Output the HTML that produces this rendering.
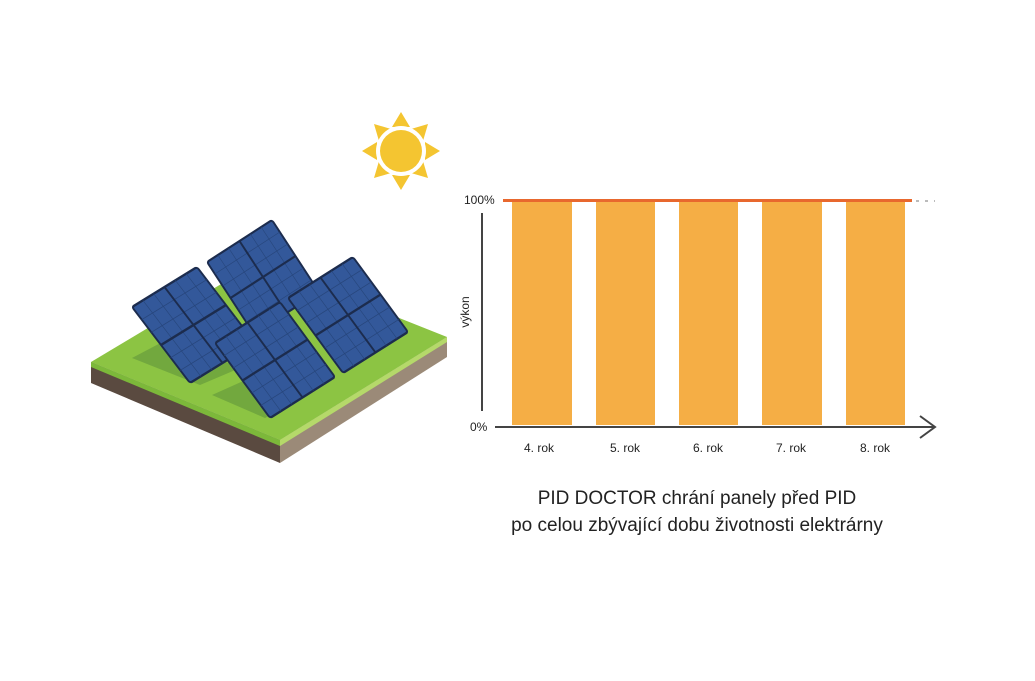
<!DOCTYPE html>
<html><head><meta charset="utf-8"><style>
html,body{margin:0;padding:0;background:#fff;width:1035px;height:681px;overflow:hidden}
svg{display:block}
text{font-family:"Liberation Sans",sans-serif;fill:#222}
</style></head><body>
<svg width="1035" height="681" viewBox="0 0 1035 681" xmlns="http://www.w3.org/2000/svg">
<defs>
<g id="panel">
  <rect x="0" y="0" width="1" height="1" rx="0.03" fill="#33589a" stroke="#1c2c4e" stroke-width="0.025"/>
  <g stroke="#27467c" stroke-width="0.008">
    <line x1="0.167" y1="0" x2="0.167" y2="1"/><line x1="0.333" y1="0" x2="0.333" y2="1"/>
    <line x1="0.667" y1="0" x2="0.667" y2="1"/><line x1="0.833" y1="0" x2="0.833" y2="1"/>
    <line y1="0.167" x1="0" y2="0.167" x2="1"/><line y1="0.333" x1="0" y2="0.333" x2="1"/>
    <line y1="0.667" x1="0" y2="0.667" x2="1"/><line y1="0.833" x1="0" y2="0.833" x2="1"/>
  </g>
  <g stroke="#1c2c4e" stroke-width="0.025">
    <line x1="0.5" y1="0" x2="0.5" y2="1"/><line x1="0" y1="0.5" x2="1" y2="0.5"/>
  </g>
</g>
</defs>
<!-- ground -->
<polygon points="91,362 280,440 280,463 91,383" fill="#5a4a40"/>
<polygon points="280,440 447,337 447,357 280,463" fill="#9b8a78"/>
<polygon points="91,362 258,262 447,337 280,440" fill="#8cc443"/>
<polygon points="280,440 447,337 447,342 280,446" fill="#b5d96a"/>
<polygon points="91,362 280,440 280,446 91,367" fill="#7cb83a"/>
<!-- shadows -->
<polygon points="132,358 170,338 240,368 200,385" fill="#72a83e"/>
<polygon points="212,395 250,378 300,400 265,418" fill="#72a83e"/>
<!-- panels -->
<g transform="matrix(65,-42,47,72,207,262)"><use href="#panel"/></g>
<g transform="matrix(65,-40,58,76,132,307)"><use href="#panel"/></g>
<g transform="matrix(65,-41,55,75,288,298)"><use href="#panel"/></g>
<g transform="matrix(65,-41,55,75,215,343)"><use href="#panel"/></g>
<!-- sun -->
<g fill="#f4c531" transform="translate(401,151)">
  <polygon points="-9,-24 0,-39 9,-24"/><polygon points="-9,24 0,39 9,24"/>
  <polygon points="-24,-9 -39,0 -24,9"/><polygon points="24,-9 39,0 24,9"/>
  <polygon points="-22,-10 -27,-27 -10,-22"/><polygon points="22,-10 27,-27 10,-22"/>
  <polygon points="-22,10 -27,27 -10,22"/><polygon points="22,10 27,27 10,22"/>
  <circle r="25" fill="#fff"/>
  <circle r="21"/>
</g>
<!-- chart -->
<g fill="#f5ae45">
  <rect x="512" y="201" width="60" height="224"/>
  <rect x="596" y="201" width="59" height="224"/>
  <rect x="679" y="201" width="59" height="224"/>
  <rect x="762" y="201" width="60" height="224"/>
  <rect x="846" y="201" width="59" height="224"/>
</g>
<line x1="503" y1="200.5" x2="912" y2="200.5" stroke="#e8682e" stroke-width="3"/>
<line x1="916" y1="201" x2="935" y2="201" stroke="#777" stroke-width="1" stroke-dasharray="3,6"/>
<line x1="482" y1="213" x2="482" y2="411" stroke="#444" stroke-width="2"/>
<line x1="495" y1="427" x2="935" y2="427" stroke="#444" stroke-width="2"/>
<polyline points="920,416 935,427 920,438" fill="none" stroke="#444" stroke-width="2"/>
<text x="464" y="204" font-size="12">100%</text>
<text x="470" y="431" font-size="12">0%</text>
<text transform="translate(469,312) rotate(-90)" font-size="12" text-anchor="middle">výkon</text>
<g font-size="12" text-anchor="middle">
  <text x="539" y="452">4. rok</text><text x="625" y="452">5. rok</text>
  <text x="708" y="452">6. rok</text><text x="791" y="452">7. rok</text>
  <text x="875" y="452">8. rok</text>
</g>
<g font-size="19" text-anchor="middle">
  <text x="697" y="504">PID DOCTOR chrání panely před PID</text>
  <text x="697" y="531">po celou zbývající dobu životnosti elektrárny</text>
</g>
</svg>
</body></html>
